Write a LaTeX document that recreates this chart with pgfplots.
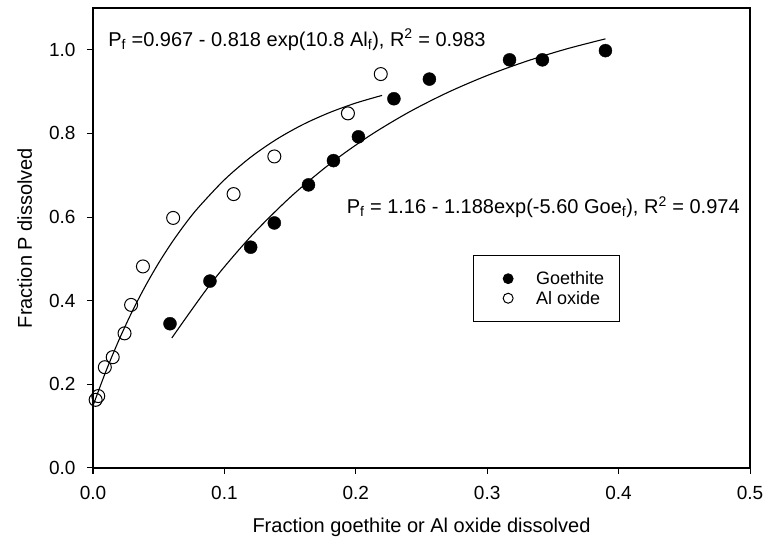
\documentclass[border=0pt]{standalone}
\usepackage{fontspec}
\setmainfont{Liberation Sans}
\usepackage{pgfplots}
\pgfplotsset{compat=1.18}
\pgfplotsset{legend image code/.code={\path[draw=none,fill=none] (0pt,-2pt) rectangle (30pt,2pt);
    \draw[mark repeat=2,mark phase=2,#1] plot coordinates {(0pt,0pt)(22pt,0pt)(30pt,0pt)};}}
\begin{document}
\begin{tikzpicture}
\begin{axis}[
  width=657pt, height=460pt, scale only axis,
  xmin=0, xmax=0.5, ymin=0, ymax=1.1,
  clip=false,
  xtick={0,0.1,0.2,0.3,0.4,0.5},
  ytick={0,0.2,0.4,0.6,0.8,1.0},
  /pgf/number format/assume math mode=true,
  /pgf/number format/.cd, fixed, fixed zerofill, precision=1, /pgfplots/.cd,
  tick align=outside, xtick pos=bottom, ytick pos=left,
  major tick length=6pt,
  tick style={line width=1pt, black},
  axis line style={line width=1.2pt},
  ticklabel style={font=\fontsize{19}{22}\selectfont},
  xticklabel style={yshift=-9pt},
  yticklabel style={xshift=-8pt},
  label style={font=\fontsize{20}{24}\selectfont},
  xlabel={Fraction goethite or Al oxide dissolved},
  ylabel={Fraction P dissolved},
  xlabel style={yshift=-11pt},
  ylabel style={yshift=10pt},
  legend style={at={(0.578,0.463)}, anchor=north west, draw=black, line width=0.8pt,
    font=\fontsize{18}{22}\selectfont, inner xsep=13pt, inner ysep=14pt,
    row sep=1pt},
  legend cell align=left,
]
% Al oxide fit
\addplot[black, line width=1.1pt, smooth, forget plot] coordinates {
(0,0.149) (0.01,0.2327) (0.02,0.3079) (0.03,0.3754) (0.04,0.4359) (0.05,0.4903)
(0.06,0.5391) (0.07,0.5829) (0.08,0.6222) (0.10,0.6892) (0.12,0.7432) (0.14,0.7866)
(0.16,0.8217) (0.18,0.8499) (0.20,0.8727) (0.22,0.891)};
% Goethite fit
\addplot[black, line width=1.1pt, smooth, forget plot] coordinates {
(0.06,0.3110) (0.09,0.4423) (0.12,0.5533) (0.15,0.6471) (0.18,0.7265) (0.21,0.7935)
(0.24,0.8502) (0.27,0.8981) (0.30,0.9386) (0.33,0.9728) (0.36,1.0018) (0.39,1.0262)};
% Goethite data
\addplot[only marks, mark=*, mark size=6.5pt, black, forget plot] coordinates {
(0.0586,0.345) (0.089,0.447) (0.120,0.528) (0.138,0.586) (0.164,0.677) (0.183,0.735)
(0.202,0.792) (0.229,0.883) (0.256,0.930) (0.317,0.976) (0.342,0.976) (0.390,0.998)};
% Al oxide data
\addplot[only marks, mark=o, mark size=6.5pt, black, line width=1pt, forget plot] coordinates {
(0.002,0.163) (0.004,0.172) (0.009,0.241) (0.015,0.265) (0.024,0.322) (0.029,0.390)
(0.038,0.482) (0.061,0.598) (0.107,0.655) (0.138,0.745) (0.194,0.848) (0.219,0.942)};
\addlegendimage{only marks, mark=*, mark size=5pt, black}
\addlegendentry{\hspace{18pt}Goethite}
\addlegendimage{only marks, mark=o, mark size=5pt, black, line width=1pt}
\addlegendentry{\hspace{18pt}Al oxide}
\node[anchor=west, font=\fontsize{20}{24}\selectfont, inner sep=0pt] at (axis cs:0.0115,1.024)
  {P\textsubscript{f} =0.967 - 0.818 exp(10.8 Al\textsubscript{f}), R\textsuperscript{2} = 0.983};
\node[anchor=west, font=\fontsize{20}{24}\selectfont, inner sep=0pt] at (axis cs:0.193,0.624)
  {P\textsubscript{f} = 1.16 - 1.188exp(-5.60 Goe\textsubscript{f}), R\textsuperscript{2} = 0.974};
\end{axis}
\path (current axis.south west) ++(-93pt,-82pt) coordinate (bbl);
\path (current axis.north east) ++(25pt,8pt) coordinate (btr);
\path (bbl) rectangle (btr);
\end{tikzpicture}
\end{document}
